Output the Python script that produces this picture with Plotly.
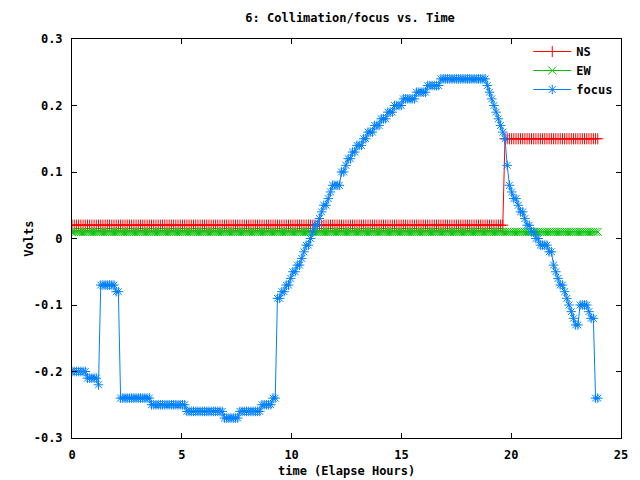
import plotly.graph_objects as go

# logger samples: 239 readings taken at a constant rate (~6 minutes apart)
SAMPLE_STEP_H = 0.1006
time_h = [round(i * SAMPLE_STEP_H, 4) for i in range(239)]

ns_volts = [0.02] * 196 + [0.15] * 43
ew_volts = [0.01] * 239

focus_volts = [
    # 0-9
    -0.20, -0.20, -0.20, -0.20, -0.20, -0.20, -0.20, -0.21, -0.21, -0.21,
    # 10-19
    -0.21, -0.21, -0.22, -0.07, -0.07, -0.07, -0.07, -0.07, -0.07, -0.07,
    # 20-29
    -0.08, -0.08, -0.24, -0.24, -0.24, -0.24, -0.24, -0.24, -0.24, -0.24,
    # 30-39
    -0.24, -0.24, -0.24, -0.24, -0.24, -0.24, -0.25, -0.25, -0.25, -0.25,
    # 40-49
    -0.25, -0.25, -0.25, -0.25, -0.25, -0.25, -0.25, -0.25, -0.25, -0.25,
    # 50-59
    -0.25, -0.25, -0.26, -0.26, -0.26, -0.26, -0.26, -0.26, -0.26, -0.26,
    # 60-69
    -0.26, -0.26, -0.26, -0.26, -0.26, -0.26, -0.26, -0.26, -0.26, -0.27,
    # 70-79
    -0.27, -0.27, -0.27, -0.27, -0.27, -0.27, -0.26, -0.26, -0.26, -0.26,
    # 80-89
    -0.26, -0.26, -0.26, -0.26, -0.26, -0.26, -0.25, -0.25, -0.25, -0.25,
    # 90-99
    -0.25, -0.24, -0.24, -0.09, -0.09, -0.08, -0.08, -0.07, -0.07, -0.06,
    # 100-109
    -0.05, -0.05, -0.04, -0.04, -0.03, -0.02, -0.01, -0.01, 0.00, 0.01,
    # 110-119
    0.02, 0.02, 0.03, 0.04, 0.05, 0.05, 0.06, 0.07, 0.08, 0.08,
    # 120-129
    0.08, 0.08, 0.10, 0.10, 0.11, 0.12, 0.12, 0.13, 0.13, 0.14,
    # 130-139
    0.14, 0.14, 0.15, 0.15, 0.16, 0.16, 0.16, 0.17, 0.17, 0.17,
    # 140-149
    0.18, 0.18, 0.18, 0.19, 0.19, 0.19, 0.20, 0.20, 0.20, 0.20,
    # 150-159
    0.21, 0.21, 0.21, 0.21, 0.21, 0.21, 0.22, 0.22, 0.22, 0.22,
    # 160-169
    0.22, 0.23, 0.23, 0.23, 0.23, 0.23, 0.23, 0.24, 0.24, 0.24,
    # 170-179
    0.24, 0.24, 0.24, 0.24, 0.24, 0.24, 0.24, 0.24, 0.24, 0.24,
    # 180-189
    0.24, 0.24, 0.24, 0.24, 0.24, 0.24, 0.24, 0.24, 0.23, 0.22,
    # 190-199
    0.21, 0.20, 0.19, 0.18, 0.17, 0.16, 0.15, 0.11, 0.08, 0.07,
    # 200-209
    0.06, 0.06, 0.05, 0.04, 0.04, 0.03, 0.02, 0.02, 0.01, 0.01,
    # 210-219
    0.00, 0.00, -0.01, -0.01, -0.01, -0.01, -0.02, -0.02, -0.04, -0.05,
    # 220-229
    -0.06, -0.07, -0.07, -0.08, -0.09, -0.10, -0.11, -0.12, -0.13, -0.13,
    # 230-238
    -0.10, -0.10, -0.10, -0.10, -0.11, -0.12, -0.12, -0.24, -0.24,
]

x_ticks = [0, 5, 10, 15, 20, 25]
y_ticks = [-0.3, -0.2, -0.1, 0, 0.1, 0.2, 0.3]
y_tick_text = ["-0.3", "-0.2", "-0.1", "0", "0.1", "0.2", "0.3"]

FONT = "DejaVu Sans Mono"

fig = go.Figure()
series = [
    ("NS", ns_volts, "#ff0000", "cross-thin"),
    ("EW", ew_volts, "#00c000", "x-thin"),
    ("focus", focus_volts, "#0080ff", "asterisk"),
]
for name, vals, color, sym in series:
    fig.add_trace(go.Scatter(
        x=time_h, y=vals, name=name, mode="lines+markers",
        line=dict(color=color, width=1),
        marker=dict(symbol=sym, size=8, color=color,
                    line=dict(color=color, width=1)),
    ))

axis_common = dict(
    showline=True, linecolor="black", linewidth=1, mirror="ticks",
    ticks="inside", ticklen=5, tickcolor="black", tickwidth=1,
    showgrid=False, zeroline=False,
    tickfont=dict(family=FONT, size=12, color="black", weight="bold"),
)

fig.update_layout(
    width=640, height=480,
    margin=dict(l=72, r=17, t=39, b=42),
    paper_bgcolor="white", plot_bgcolor="white",
    title=dict(text="6: Collimation/focus vs. Time", x=0.547,
               xanchor="center", y=1 - 18 / 480, yanchor="middle",
               font=dict(family=FONT, size=12, color="black", weight="bold")),
    xaxis=dict(range=[0, 25], tickvals=x_ticks, ticklabelstandoff=6, **axis_common),
    yaxis=dict(range=[-0.3, 0.3], tickvals=y_ticks, ticktext=y_tick_text,
               ticklabelstandoff=6, **axis_common),
    legend=dict(x=0.995, y=1.005, xanchor="right", yanchor="top",
                bgcolor="rgba(0,0,0,0)", borderwidth=0,
                font=dict(family=FONT, size=12, color="black", weight="bold"),
                itemwidth=38, tracegroupgap=0),
    annotations=[
        dict(text="Volts", xref="paper", yref="paper", x=(28 - 72) / 551, y=0.5,
             textangle=-90, showarrow=False, xanchor="center", yanchor="middle",
             font=dict(family=FONT, size=12, color="black", weight="bold")),
        dict(text="time (Elapse Hours)", xref="paper", yref="paper", x=0.5,
             y=(438 - 471) / 399, showarrow=False, xanchor="center", yanchor="middle",
             font=dict(family=FONT, size=12, color="black", weight="bold")),
    ],
    showlegend=True,
)

fig.write_html("out.html")
